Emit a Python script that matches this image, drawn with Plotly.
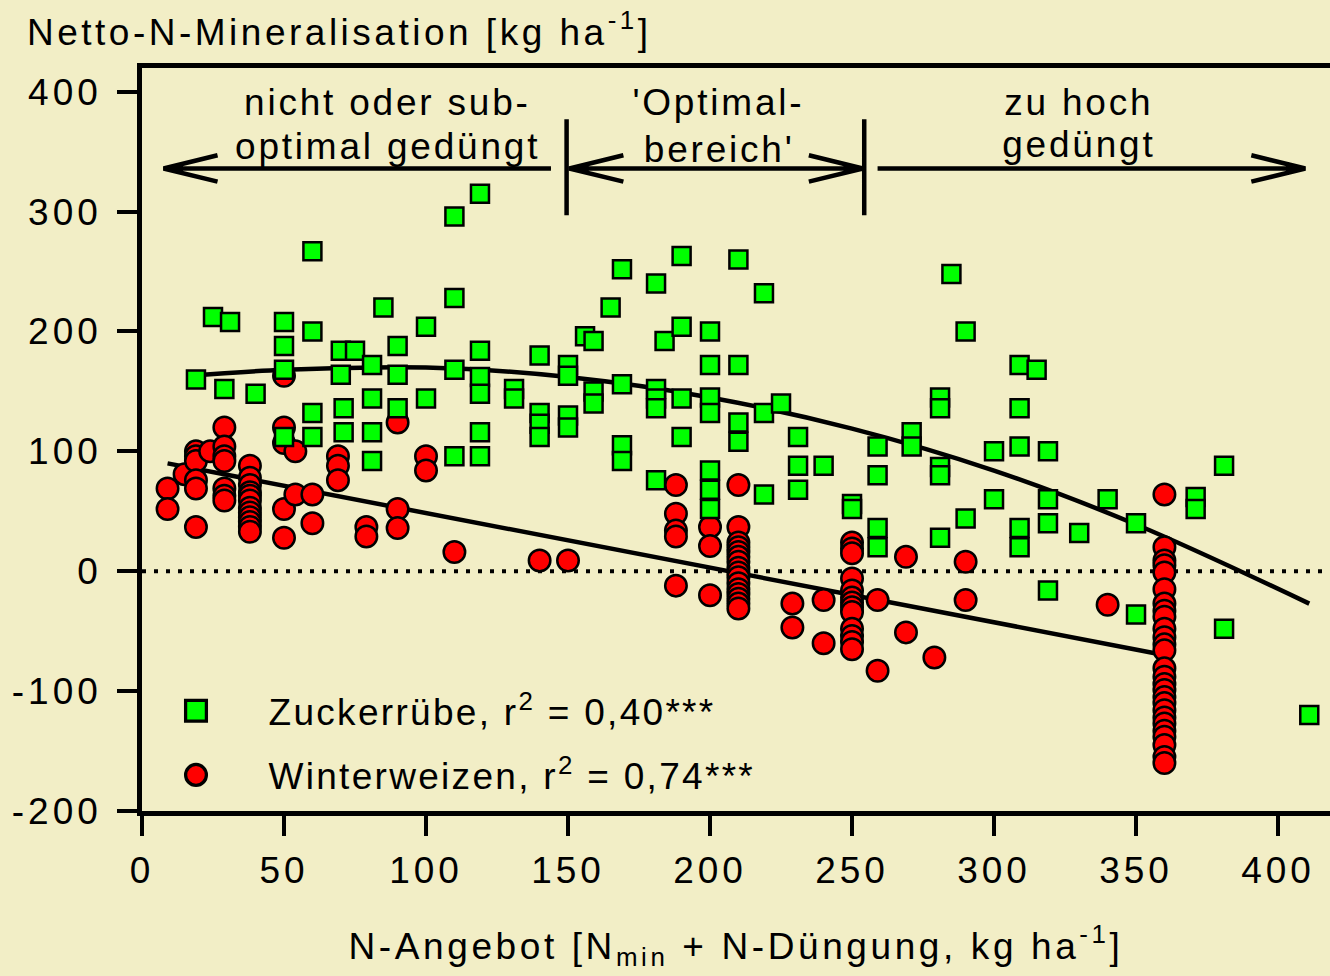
import plotly.graph_objects as go

# ---------------- data ----------------
zr_x = [19, 25, 29, 31, 40, 50, 50, 50, 50, 60, 60, 60, 60, 70, 75, 70, 71, 71, 81, 81,
        81, 81, 85, 90, 90, 90, 100, 100, 110, 110, 110, 110, 119, 119, 119, 119, 119, 119, 131, 131,
        140, 140, 140, 140, 150, 150, 150, 150, 156, 159, 159, 159, 165, 169, 169, 169, 169, 181, 184, 190,
        190, 181, 181, 181, 190, 190, 181, 200, 200, 200, 200, 200, 200, 200, 210, 210, 210, 210, 219, 219,
        219, 225, 231, 231, 231, 240, 250, 250, 259, 259, 259, 259, 271, 271, 281, 281, 281, 281, 281, 285,
        290, 290, 300, 300, 309, 309, 309, 309, 309, 315, 319, 319, 319, 319, 330, 340, 350, 350, 371, 371,
        381, 381, 411]
zr_y = [160, 212, 152, 208, 148, 208, 188, 168, 112, 267, 200, 132, 112, 184, 184, 164, 136, 116, 172, 144,
        116, 92, 220, 188, 164, 136, 204, 144, 296, 228, 168, 96, 315, 184, 162, 148, 116, 96, 152, 144,
        180, 132, 123, 112, 172, 163, 130, 120, 196, 192, 150, 140, 220, 252, 156, 105, 92, 240, 192, 263,
        204, 152, 144, 136, 144, 112, 76, 200, 172, 145, 132, 84, 68, 52, 260, 172, 124, 108, 232, 132,
        64, 140, 112, 88, 68, 88, 56, 52, 104, 80, 36, 20, 116, 104, 145, 136, 87, 80, 28, 248,
        200, 44, 100, 60, 172, 136, 104, 36, 20, 168, 100, 60, 40, -16, 32, 60, 40, -36, 62, 52,
        88, -48, -120]

ww_x = [9, 9, 15, 19, 19, 19, 19, 19, 19, 24,
        29, 29, 29, 29, 29, 29, 29,
        38, 38, 38, 38, 38, 38, 38, 38, 38, 38, 38, 38,
        50, 50, 50, 50, 50, 54, 54, 60, 60,
        69, 69, 69, 79, 79, 90, 90, 90, 100, 100,
        110, 140, 150,
        188, 188, 188, 188, 188,
        200, 200, 200,
        210, 210, 210, 210, 210, 210, 210, 210, 210, 210, 210, 210, 210, 210, 210, 210,
        229, 229, 240, 240,
        250, 250, 250, 250, 250, 250, 250, 250, 250, 250, 250, 250, 250,
        259, 259, 269, 269, 279, 290, 290, 340, 360,
        360, 360, 360, 360, 360, 360, 360, 360, 360, 360, 360, 360, 360, 360, 360, 360,
        360, 360, 360, 360, 360, 360, 360, 360, 360, 360]
ww_y = [69, 52, 81, 100, 96, 92, 76, 69, 37, 100,
        120, 104, 96, 92, 69, 63, 59,
        88, 78, 72, 66, 63, 59, 53, 49, 45, 41, 37, 33,
        163, 120, 107, 52, 28, 100, 64, 64, 40,
        96, 88, 76, 37, 29, 124, 52, 36, 96, 84,
        16, 9, 9,
        72, 48, 34, 29, -12,
        37, 21, -20,
        72, 37, 24, 20, 16, 12, 8, 3, -1, -5, -10, -15, -19, -23, -27, -31,
        -27, -47, -24, -60,
        24, 19, 15, -6, -16, -22, -26, -30, -34, -48, -54, -59, -65,
        -24, -83, 12, -51, -72, 8, -24, -28, 64,
        20, 9, 5, -1, -15, -27, -33, -38, -48, -55, -61, -66, -81, -88, -94, -99,
        -105, -110, -116, -122, -127, -133, -138, -145, -155, -160]

# regression curves, points
fit_zr_x = [16, 50, 100, 150, 200, 250, 300, 350, 411]
fit_zr_y = [163, 168, 170, 162, 145, 119, 84, 39, -27]
fit_ww_x = [9, 358]
fit_ww_y = [90, -69]

x_ticks = [0, 50, 100, 150, 200, 250, 300, 350, 400]
y_ticks = [-200, -100, 0, 100, 200, 300, 400]
y_ticktext = ["-200", "-100", "0", "100", "200", "300", "400"]

names = ["Zuckerrübe, r<sup>2</sup> = 0,40***", "Winterweizen, r<sup>2</sup> = 0,74***"]

# region labels: (x centre, y bottom, text)
region_labels = [
    (86.5, 372.5, "nicht oder sub-"), (86.5, 335.5, "optimal gedüngt"),
    (203.0, 372.0, "'Optimal-"), (203.0, 333.0, "bereich'"),
    (330.0, 372.0, "zu hoch"), (330.0, 337.5, "gedüngt"),
]
arrow_y = 336.0
bars_x = [149.5, 254.3]
bars_y = [297.0, 377.0]
# horizontal arrow segments: (x start, x end); tip side marked by chevrons below
arrow_segments = [(7.6, 144.0), (150.5, 253.8), (259.0, 409.6)]
chevrons = [(7.6, "left"), (150.5, "left"), (253.8, "right"), (409.6, "right")]
chev_dx, chev_dy = 19.0, 11.0

# ---------------- styles ----------------
BG = "#F2EEC6"
FONT = "Liberation Sans, Arial, Helvetica, sans-serif"
FS = 37
TXT = dict(family=FONT, size=FS, color="black")

fig = go.Figure()

fig.add_trace(go.Scatter(x=fit_zr_x, y=fit_zr_y, mode="lines", line=dict(color="black", width=4.5, shape="spline"),
                         showlegend=False, hoverinfo="skip"))
fig.add_trace(go.Scatter(x=fit_ww_x, y=fit_ww_y, mode="lines", line=dict(color="black", width=4.5),
                         showlegend=False, hoverinfo="skip"))
fig.add_trace(go.Scatter(x=ww_x, y=ww_y, mode="markers", name=names[1], legendgroup="ww", legendrank=2,
                         marker=dict(symbol="circle", size=21.5, color="#FF0000", line=dict(color="black", width=2.5))))
fig.add_trace(go.Scatter(x=zr_x, y=zr_y, mode="markers", name=names[0], legendgroup="zr", legendrank=1,
                         marker=dict(symbol="square", size=18, color="#00FF00", line=dict(color="black", width=2.5))))

# region arrows and separators as one path
parts = []
for bx in bars_x:
    parts.append(f"M {bx},{bars_y[0]} L {bx},{bars_y[1]}")
for x0, x1 in arrow_segments:
    parts.append(f"M {x0},{arrow_y} L {x1},{arrow_y}")
for tip, side in chevrons:
    d = chev_dx if side == "left" else -chev_dx
    parts.append(f"M {tip + d},{arrow_y + chev_dy} L {tip},{arrow_y} L {tip + d},{arrow_y - chev_dy}")

shapes = [
    dict(type="line", xref="paper", x0=0, x1=1, yref="y", y0=0, y1=0,
         line=dict(color="black", width=4, dash="4px,8px"), layer="below"),
    dict(type="path", xref="x", yref="y", path=" ".join(parts), line=dict(color="black", width=4.5)),
]

annotations = []
for xc, yb, txt in region_labels:
    annotations.append(dict(x=xc, y=yb, xref="x", yref="y", text=txt, showarrow=False,
                            xanchor="center", yanchor="bottom", font=TXT))
annotations.append(dict(x=(25 - 142) / 1188, y=1.0178, xref="paper", yref="paper",
                        text="Netto-N-Mineralisation [kg ha<sup>-1</sup>]", showarrow=False,
                        xanchor="left", yanchor="bottom", align="left", font=TXT))

fig.update_layout(
    width=1330, height=976,
    margin=dict(l=142, r=0, t=68, b=165.3, pad=0),
    paper_bgcolor=BG, plot_bgcolor=BG,
    font=TXT,
    shapes=shapes, annotations=annotations,
    showlegend=True,
    legend=dict(x=(123.5 - 142) / 1188, y=0.1760, xanchor="left", yanchor="top",
                bgcolor="rgba(0,0,0,0)", borderwidth=0, itemwidth=135, tracegroupgap=13,
                font=TXT),
    xaxis=dict(range=[0, 418.3], tickvals=x_ticks, showgrid=False, zeroline=False,
               showline=True, linecolor="black", linewidth=4.5, mirror=True,
               ticks="outside", ticklen=20, tickwidth=4, tickcolor="black",
               ticklabelstandoff=3, tickfont=TXT,
               title=dict(text="N-Angebot [N<sub>min</sub> + N-Düngung, kg ha<sup>-1</sup>]", standoff=44,
                          font=TXT)),
    yaxis=dict(range=[-200, 419.8], tickvals=y_ticks, ticktext=y_ticktext, showgrid=False, zeroline=False,
               showline=True, linecolor="black", linewidth=4.5, mirror=False,
               ticks="outside", ticklen=20, tickwidth=4, tickcolor="black",
               ticklabelstandoff=8, tickfont=TXT),
)

# text tracking (letter spacing) of the original lettering, and larger legend keys
post = """
function sp(sel, v){ document.querySelectorAll(sel).forEach(function(t){ t.style.letterSpacing = v; }); }
sp('.xtick text', '4px');
sp('.ytick text', '4px');
sp('text.xtitle', '3.6px');
sp('text.legendtext', '2.3px');
document.querySelectorAll('text.annotation-text').forEach(function(t){
  t.style.letterSpacing = (t.textContent.indexOf('Netto') === 0) ? '3.5px' : '2.8px';
});
document.querySelectorAll('.legend [clip-path]').forEach(function(e){ e.removeAttribute('clip-path'); });
document.querySelectorAll('.legend .legendpoints path.scatterpts').forEach(function(p){
  var tr = p.getAttribute('transform') || '';
  p.setAttribute('transform', tr + ' scale(1.3)');
});
document.querySelectorAll('svg text').forEach(function(t){
  if (!t.textContent || !t.textContent.trim()) { t.parentNode.removeChild(t); }
});
"""
fig.write_html("out.html", post_script=post)
